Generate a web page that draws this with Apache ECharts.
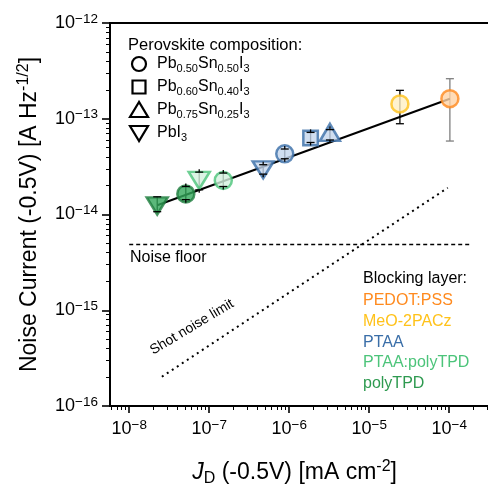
<!DOCTYPE html>
<html><head><meta charset="utf-8">
<script src="https://cdn.jsdelivr.net/npm/echarts@6/dist/echarts.min.js"></script>
<style>html,body{margin:0;padding:0;background:#fff}#c{width:488px;height:491px}</style>
</head><body><div id="c"></div>
<script>
// ---------------- DATA ----------------
const jd      = [2.24e-8, 5.1e-8, 7.5e-8, 1.5e-7, 4.73e-7, 8.8e-7, 1.85e-6, 3.23e-6, 2.42e-5, 1.02e-4];
const noise   = [1.23e-14, 1.64e-14, 2.27e-14, 2.27e-14, 2.93e-14, 4.3e-14, 6.3e-14, 7.2e-14, 1.43e-13, 1.62e-13];
const errHigh = [1.53e-14, 1.96e-14, 2.77e-14, 2.71e-14, 3.31e-14, 4.83e-14, 7.2e-14, 7.7e-14, 1.98e-13, 2.62e-13];
const errLow  = [1.07e-14, 1.43e-14, 1.81e-14, 1.96e-14, 2.64e-14, 3.82e-14, 5.65e-14, 6.0e-14, 8.87e-14, 5.85e-14];
const composition = ['PbI3','Pb50','PbI3','Pb50','PbI3','Pb50','Pb60','Pb75','Pb50','Pb50'];
const layer = ['polyTPD','polyTPD','PTAA:polyTPD','PTAA:polyTPD','PTAA','PTAA','PTAA','PTAA','MeO-2PACz','PEDOT:PSS'];

const fitX = [2.24e-8, 1.02e-4];
const fitY = [1.25e-14, 1.62e-13];
const floorX = [1.0e-8, 1.8e-4];
const floorY = [4.85e-15, 4.85e-15];
const shotX = [2.56e-8, 9.6e-5];
const shotY = [2.02e-16, 1.9e-14];

const xTickExp = [-8, -7, -6, -5, -4];
const yTickExp = [-16, -15, -14, -13, -12];

const compNames = ['Pb50', 'Pb60', 'Pb75', 'PbI3'];
const compLabels = [
  '{n|Pb}{s|0.50}{n|Sn}{s|0.50}{n|I}{s|3}',
  '{n|Pb}{s|0.60}{n|Sn}{s|0.40}{n|I}{s|3}',
  '{n|Pb}{s|0.75}{n|Sn}{s|0.25}{n|I}{s|3}',
  '{n|PbI}{s|3}'
];
const layerNames = ['PEDOT:PSS', 'MeO-2PACz', 'PTAA', 'PTAA:polyTPD', 'polyTPD'];

// ---------------- STYLE ----------------
const FONT = '"Liberation Sans", Arial, sans-serif';
const layerStyle = {
  'PEDOT:PSS':    {stroke: '#FF8A1E', fill: '#FFD3A6', text: '#FF8A1E', err: '#7f7f7f'},
  'MeO-2PACz':    {stroke: '#FFC21A', fill: '#FFF0C4', text: '#FFC21A', err: '#000'},
  'PTAA':         {stroke: '#3A6EA8', fill: '#C4D6EC', text: '#3A6EA8', err: '#000'},
  'PTAA:polyTPD': {stroke: '#4CC47A', fill: '#D3F1DF', text: '#4CC47A', err: '#000'},
  'polyTPD':      {stroke: '#1F7D3E', fill: '#33A65A', text: '#2E9A50', err: '#000'}
};
const compSymbol = {
  'Pb50': {symbol: 'circle', size: 17, rotate: 0},
  'Pb60': {symbol: 'rect', size: 14.5, rotate: 0},
  'Pb75': {symbol: 'triangle', size: [20, 17], rotate: 0},
  'PbI3': {symbol: 'triangle', size: [21, 17], rotate: 180}
};

const lg = Math.log10;
const XMIN = -8.24, XMAX = -3.35, YMIN = -16, YMAX = -12;
const PX_X = 80, PX_Y = 95.75;

const xMinor = [], yMinor = [];
for (let d = -9; d <= -4; d++) for (let k = 2; k <= 9; k++) {
  const v = d + lg(k);
  if (v > XMIN && v < XMAX) xMinor.push(v);
}
for (let d = -17; d <= -12; d++) for (let k = 2; k <= 9; k++) {
  const v = d + lg(k);
  if (v > YMIN && v < YMAX) yMinor.push(v);
}

const tickRich = {
  b: {fontSize: 18, fontFamily: FONT, color: '#000', lineHeight: 22},
  p: {fontSize: 13.5, fontFamily: FONT, color: '#000', verticalAlign: 'top', lineHeight: 22}
};
const tickFmt = v => '{b|10}{p|\u2212' + Math.abs(Math.round(v)) + '}';

const chart = echarts.init(document.getElementById('c'), null, {renderer: 'canvas'});

const scatterSeries = compNames.map(c => ({
  type: 'scatter', name: c, z: 3,
  symbol: compSymbol[c].symbol, symbolSize: compSymbol[c].size, symbolRotate: compSymbol[c].rotate,
  data: jd.map((x, i) => composition[i] === c ? {
    value: [lg(x), lg(noise[i])],
    itemStyle: {color: layerStyle[layer[i]].fill, borderColor: layerStyle[layer[i]].stroke, borderWidth: 2.5}
  } : null).filter(d => d),
  emphasis: {disabled: true}
}));

const errData = jd.map((x, i) => [lg(x), lg(errLow[i]), lg(errHigh[i]), lg(noise[i]), i]);

const errLines = {
  type: 'custom', z: 1, silent: true,
  data: errData,
  renderItem: (params, api) => {
    const i = api.value(4);
    const pH = api.coord([api.value(0), api.value(2)]);
    const pL = api.coord([api.value(0), api.value(1)]);
    return {type: 'line', shape: {x1: pH[0], y1: pH[1], x2: pL[0], y2: pL[1]},
      style: {stroke: layerStyle[layer[i]].err, lineWidth: 1.3}};
  }
};
const errCaps = {
  type: 'custom', z: 4, silent: true,
  data: errData,
  renderItem: (params, api) => {
    const i = api.value(4);
    const pH = api.coord([api.value(0), api.value(2)]);
    const pL = api.coord([api.value(0), api.value(1)]);
    const pM = api.coord([api.value(0), api.value(3)]);
    const col = layerStyle[layer[i]].err;
    const w = 4;
    const ch = [
      {type: 'line', shape: {x1: pH[0] - w, y1: pH[1], x2: pH[0] + w, y2: pH[1]}, style: {stroke: col, lineWidth: 1.3}},
      {type: 'line', shape: {x1: pL[0] - w, y1: pL[1], x2: pL[0] + w, y2: pL[1]}, style: {stroke: col, lineWidth: 1.3}}
    ];
    if (Math.abs(pM[1] - pH[1]) < 9) {
      ch.push({type: 'line', shape: {x1: pH[0], y1: pH[1], x2: pH[0], y2: pH[1] - 3}, style: {stroke: col, lineWidth: 1.3}});
      ch.push({type: 'line', shape: {x1: pL[0], y1: pL[1], x2: pL[0], y2: pL[1] + 3}, style: {stroke: col, lineWidth: 1.3}});
    }
    return {type: 'group', children: ch};
  }
};

const lineSeries = [
  {type: 'line', z: 2, silent: true, symbol: 'none', data: fitX.map((x, i) => [lg(x), lg(fitY[i])]),
   lineStyle: {color: '#000', width: 2}},
  {type: 'line', z: 2, silent: true, symbol: 'none', data: floorX.map((x, i) => [lg(x), lg(floorY[i])]),
   lineStyle: {color: '#000', width: 1.5, type: [4, 3]}},
  {type: 'line', z: 2, silent: true, symbol: 'none', data: shotX.map((x, i) => [lg(x), lg(shotY[i])]),
   lineStyle: {color: '#000', width: 2, type: [2, 4]}}
];

const graphics = [];
graphics.push({type: 'text', x: 128, y: 45, style: {text: 'Perovskite composition:', font: '16.5px ' + FONT, fill: '#000', verticalAlign: 'middle'}});
const rowY = [64, 87, 110, 133];
const mx = 139;
const shapeStyle = {fill: '#fff', stroke: '#000', lineWidth: 2.2};
graphics.push({type: 'circle', shape: {cx: mx, cy: rowY[0], r: 7}, style: shapeStyle});
graphics.push({type: 'rect', shape: {x: mx - 6.5, y: rowY[1] - 6.5, width: 13, height: 13}, style: shapeStyle});
graphics.push({type: 'polygon', shape: {points: [[mx, rowY[2] - 8], [mx - 9, rowY[2] + 7], [mx + 9, rowY[2] + 7]]}, style: shapeStyle});
graphics.push({type: 'polygon', shape: {points: [[mx, rowY[3] + 8], [mx - 9, rowY[3] - 7], [mx + 9, rowY[3] - 7]]}, style: shapeStyle});
compLabels.forEach((t, i) => graphics.push({type: 'text', x: 157, y: rowY[i], style: {
  text: t, verticalAlign: 'middle',
  rich: {n: {fontSize: 16, fontFamily: FONT, fill: '#000', lineHeight: 20},
         s: {fontSize: 11, fontFamily: FONT, fill: '#000', verticalAlign: 'bottom', lineHeight: 20}}
}}));
graphics.push({type: 'text', x: 363, y: 279, style: {text: 'Blocking layer:', font: '16px ' + FONT, fill: '#000', verticalAlign: 'middle'}});
layerNames.forEach((n, i) => graphics.push({type: 'text', x: 363, y: 301 + i * 20.6, style: {
  text: n, font: '16px ' + FONT, fill: layerStyle[n].text, verticalAlign: 'middle'}}));
graphics.push({type: 'text', x: 130, y: 258, style: {text: 'Noise floor', font: '16px ' + FONT, fill: '#000', verticalAlign: 'middle'}});
graphics.push({type: 'text', x: 192, y: 327, rotation: 0.54, style: {text: 'Shot noise limit', font: '14px ' + FONT, fill: '#000', align: 'center', verticalAlign: 'middle'}});

const baseAxis = {type: 'value', splitLine: {show: false}, scale: false};
const GL = 110, GT = 23;
const GW = (XMAX - XMIN) * PX_X, GH = (YMAX - YMIN) * PX_Y;

chart.setOption({
  animation: false,
  backgroundColor: '#fff',
  grid: {left: GL, top: GT, width: GW, height: GH, show: true, outerBoundsMode: 'none',
         borderColor: '#000', borderWidth: 2, backgroundColor: 'transparent', containLabel: false},
  xAxis: [
    Object.assign({}, baseAxis, {
      min: XMIN, max: XMAX, position: 'bottom',
      axisLine: {show: true, lineStyle: {color: '#000', width: 2}},
      axisTick: {show: true, customValues: xTickExp, length: 7, lineStyle: {color: '#000', width: 1.6}},
      axisLabel: {show: true, customValues: xTickExp, formatter: tickFmt, rich: tickRich, margin: 12},
      name: '{i|J}{d|D}{n| (-0.5V) [mA cm}{p|-2}{n|]}', nameLocation: 'middle', nameGap: 53,
      nameTextStyle: {padding: [0, 22, 0, 0], rich: {
        i: {fontSize: 23, fontFamily: FONT, fontStyle: 'italic', color: '#000', lineHeight: 28},
        d: {fontSize: 16, fontFamily: FONT, color: '#000', verticalAlign: 'bottom', lineHeight: 28},
        n: {fontSize: 23, fontFamily: FONT, color: '#000', lineHeight: 28},
        p: {fontSize: 16, fontFamily: FONT, color: '#000', verticalAlign: 'top', lineHeight: 28}
      }}
    }),
    Object.assign({}, baseAxis, {
      min: XMIN, max: XMAX, position: 'bottom',
      axisLine: {show: false},
      axisTick: {show: true, customValues: xMinor, length: 4, lineStyle: {color: '#000', width: 1}},
      axisLabel: {show: false}
    })
  ],
  yAxis: [
    Object.assign({}, baseAxis, {
      min: YMIN, max: YMAX, position: 'left',
      axisLine: {show: true, lineStyle: {color: '#000', width: 2}},
      axisTick: {show: true, customValues: yTickExp, length: 8, lineStyle: {color: '#000', width: 1.6}},
      axisLabel: {show: true, customValues: yTickExp, formatter: tickFmt, rich: tickRich, margin: 12},
      name: '{n|Noise Current (-0.5V) [A Hz}{p|-1/2}{n|]}', nameLocation: 'middle', nameGap: 66, nameRotate: 90,
      nameTextStyle: {rich: {
        n: {fontSize: 23, fontFamily: FONT, color: '#000', lineHeight: 28},
        p: {fontSize: 16, fontFamily: FONT, color: '#000', verticalAlign: 'top', lineHeight: 28}
      }}
    }),
    Object.assign({}, baseAxis, {
      min: YMIN, max: YMAX, position: 'left',
      axisLine: {show: false},
      axisTick: {show: true, customValues: yMinor, length: 4, lineStyle: {color: '#000', width: 1}},
      axisLabel: {show: false}
    })
  ],
  series: [...lineSeries, errLines, ...scatterSeries, errCaps],
  graphic: graphics
});
</script>
</body></html>
